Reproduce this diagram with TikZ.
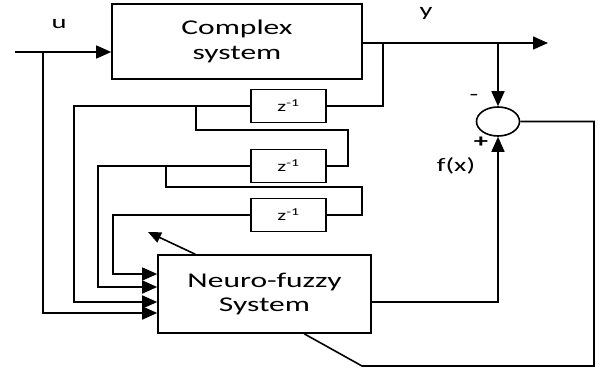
\documentclass[tikz,border=0pt]{standalone}
\usepackage{fontspec}
\setmainfont{Carlito}[FakeStretch=1.5]
\usetikzlibrary{arrows.meta,shapes.geometric,calc}
\begin{document}
\begin{tikzpicture}[x=1pt,y=-1pt,line width=1.6pt,
  box/.style={draw,rectangle,inner sep=0pt,align=center},
  big/.style={font=\fontsize{21}{24.5}\selectfont},
  dly/.style={box,minimum width=75pt,minimum height=33pt,font=\fontsize{15}{16}\selectfont},
  lbl/.style={font=\fontsize{19}{22}\selectfont,inner sep=0pt},
  arr/.style={-{Triangle[length=15pt,width=13pt]}},
  sarr/.style={-{Triangle[length=13pt,width=11pt]}}]
\useasboundingbox (0,0) rectangle (600,372);
% blocks
\node[box,big,minimum width=250pt,minimum height=75pt] (cs) at (237,41.5) {Complex\\system};
\node[box,big,minimum width=213pt,minimum height=78pt] (nf) at (264.5,294) {Neuro-fuzzy\\System};
\node[dly] (d1) at (288.5,106) {z\textsuperscript{-1}};
\node[dly] (d2) at (288.5,166) {z\textsuperscript{-1}};
\node[dly] (d3) at (288.5,215) {z\textsuperscript{-1}};
\node[draw,ellipse,minimum width=43pt,minimum height=29pt,inner sep=0pt] (sum) at (498,121.5) {};
% labels
\node[lbl] (lu) at (59,24) {u};
\node[lbl] (ly) at (426,13) {y};
\node[lbl] (lf) at (456,166) {f(x)};
\node[lbl] (lm) at (474,97) {-};
\node[lbl,font=\bfseries\fontsize{19}{22}\selectfont] (lp) at (481,142) {+};
% coordinates
\coordinate (uin) at (15,52);
\coordinate (ub) at (43,52);
\coordinate (yend) at (548,43);
\coordinate (yb1) at (383,43);
\coordinate (yj) at (498,43);
\coordinate (in1) at ($(nf.west)+(0,-20)$);
\coordinate (in2) at ($(nf.west)+(0,-7)$);
\coordinate (in3) at ($(nf.west)+(0,8)$);
\coordinate (in4) at ($(nf.west)+(0,19)$);
\coordinate (c1) at (74,106);
\coordinate (b1) at (196,106);
\coordinate (k1) at (348,130);
\coordinate (c2) at (98,166);
\coordinate (b2) at (166,166);
\coordinate (k2) at (362,187);
\coordinate (c3) at (113,215);
\coordinate (a0) at ($(nf.north west)+(38,0)$);
\coordinate (a1) at (148,232);
\coordinate (nfo) at ($(nf.east)+(0,8)$);
\coordinate (r1) at (594,121.5);
\coordinate (r2) at (362,366);
\coordinate (r3) at ($(nf.south west)+(147,0)$);
% connectors
\draw[arr] (uin) -- (uin -| cs.west);
\draw[arr] (ub) |- (in4);
\draw[arr] (yend -| cs.east) -- (yend);
\draw (yb1) |- (d1.east);
\draw[arr] (yj) -- (sum.north);
\draw[arr] (d1.west) -- (c1) |- (in3);
\draw (b1) |- (k1) |- (d2.east);
\draw[arr] (d2.west) -- (c2) |- (in2);
\draw (b2) |- (k2) |- (d3.east);
\draw[arr] (d3.west) -- (c3) |- (in1);
\draw[sarr] (a0) -- (a1);
\draw[arr] (nfo) -| (sum.south);
\draw (sum.east) -- (r1) |- (r2) -- (r3);
\end{tikzpicture}
\end{document}
